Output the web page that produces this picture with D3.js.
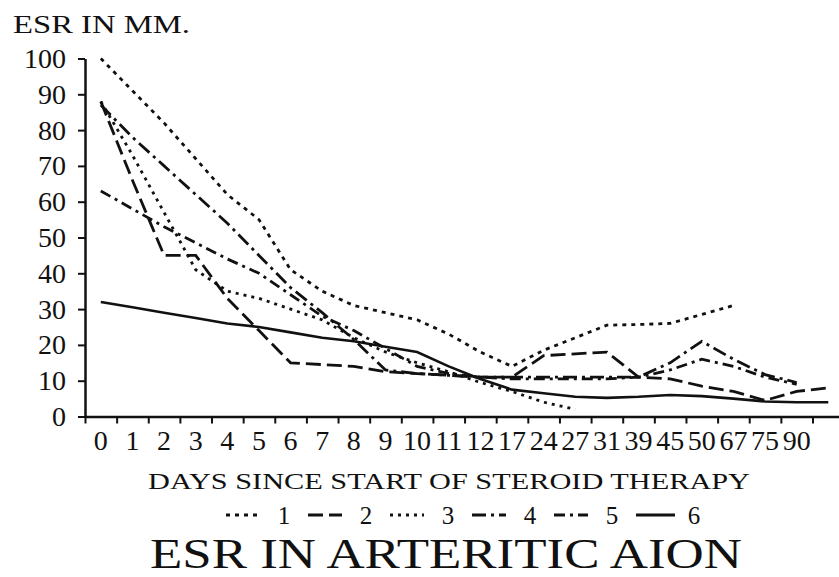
<!DOCTYPE html>
<html>
<head>
<meta charset="utf-8">
<script src="https://cdn.jsdelivr.net/npm/d3@7"></script>
<style>
  body { margin: 0; background: #fff; }
  svg text { font-family: "Liberation Serif", "DejaVu Serif", serif; fill: #111; }
</style>
</head>
<body>
<svg width="839" height="577"></svg>
<script>
// days since start of steroid therapy (last point has no printed label)
const days = ["0", "1", "2", "3", "4", "5", "6", "7", "8", "9", "10", "11", "12",
  "17", "24", "27", "31", "39", "45", "50", "67", "75", "90", ""];
const yTicks = [0, 10, 20, 30, 40, 50, 60, 70, 80, 90, 100];
const seriesNames = ["1", "2", "3", "4", "5", "6"];

// ESR in mm, one array per patient
const esr1 = [100, 91, 82, 72, 62, 55, 41, 35, 31, 29, 27, 23, 18, 14, 18.5, 22, 25.5, 25.7, 26, 28.5, 31];
const esr2 = [88, 66, 45, 45, 33, 24, 15, 14.5, 14, 12.5, 12, 11.5, 11, 11, 17, 17.5, 18, 11, 10.5, 8.5, 7, 4.5, 7, 8];
const esr3 = [88, 73, 57, 41, 35, 33, 30, 27, 22, 18, 15, 12.5, 9.5, 7, 4, 2];
const esr4 = [87, 78, 70, 62, 54, 45, 36, 29, 21.5, 13, 12, 11.5, 11, 11, 11, 11, 11, 11, 15, 21, 16, 11.7, 9.5];
const esr5 = [63, 58, 53, 48.5, 44, 40, 34, 28, 24, 19, 14, 12, 11, 10.5, 10.5, 10.5, 10.5, 11, 13, 16, 14, 11, 9];
const esr6 = [32, 30.5, 29, 27.5, 26, 25, 23.5, 22, 21, 19.5, 18, 14, 10.5, 7.5, 6.5, 5.5, 5.2, 5.5, 6, 5.7, 5, 4.2, 4, 4];

const allSeries = [esr1, esr2, esr3, esr4, esr5, esr6];
const dashes = ["4,5", "15,6", "3,5", "14,5,3,5", "11,5,3,5", null];

const svg = d3.select("svg");
const step = 31.63;
const x = d3.scaleBand().domain(days).range([85, 85 + days.length * step]);
const xEdge = d3.scaleLinear().domain([0, days.length]).range(x.range());
const y = d3.scaleLinear().domain([0, 100]).range([416.5, 58.5]);

// y axis
const yAxis = svg.append("g")
  .attr("transform", "translate(85,0)")
  .call(d3.axisLeft(y).tickValues(yTicks).tickSize(7).tickSizeOuter(0).tickPadding(12))
yAxis.attr("font-size", 28).attr("font-family", null)
yAxis.select(".domain").attr("stroke", "#111").attr("stroke-width", 2.5)
yAxis.selectAll(".tick line").attr("stroke", "#111").attr("stroke-width", 2)

// x axis: ticks at band edges
const xAxis = svg.append("g")
  .attr("transform", `translate(0,${y(0)})`)
  .call(d3.axisBottom(xEdge).tickValues(d3.range(0, days.length + 1)).tickSize(7).tickSizeOuter(0).tickFormat(""))
xAxis.select(".domain").attr("stroke", "#111").attr("stroke-width", 2.5)
xAxis.selectAll(".tick line").attr("stroke", "#111").attr("stroke-width", 2)

// x labels at band centres
const xLabels = svg.append("g")
  .attr("transform", `translate(0,${y(0)})`)
  .call(d3.axisBottom(x).tickSize(0).tickPadding(14))
xLabels.attr("font-size", 28).attr("font-family", null)
xLabels.select(".domain").remove()

const line = d3.line()
  .x((d, i) => x(days[i]) + x.bandwidth() / 2)
  .y(d => y(d))

svg.append("g").selectAll("path.series")
  .data(allSeries)
  .enter()
  .append("path")
  .attr("class", "series")
  .attr("d", line)
  .attr("fill", "none")
  .attr("stroke", "#111")
  .attr("stroke-width", (d, i) => i === 5 ? 2.6 : 2.8)
  .attr("stroke-dasharray", (d, i) => dashes[i])

// texts
svg.append("text").attr("x", 13).attr("y", 33)
  .attr("font-size", 26).attr("textLength", 177).attr("lengthAdjust", "spacingAndGlyphs")
  .text("ESR IN MM.")

svg.append("text").attr("x", 148).attr("y", 489)
  .attr("font-size", 24).attr("textLength", 602).attr("lengthAdjust", "spacingAndGlyphs")
  .text("DAYS SINCE START OF STEROID THERAPY")

// legend
const legend = svg.append("g").selectAll("g")
  .data(seriesNames)
  .enter()
  .append("g")
  .attr("transform", (d, i) => `translate(${226 + i * 82},515)`)

legend.append("line")
  .attr("x1", 0).attr("x2", (d, i) => i === 5 ? 39 : 34)
  .attr("stroke", "#111").attr("stroke-width", 2.8)
  .attr("stroke-dasharray", (d, i) => dashes[i])

legend.append("text")
  .attr("x", 58).attr("y", 9)
  .attr("text-anchor", "middle")
  .attr("font-size", 25)
  .text(d => d)

svg.append("text").attr("x", 150).attr("y", 568)
  .attr("font-size", 42).attr("textLength", 592).attr("lengthAdjust", "spacingAndGlyphs")
  .text("ESR IN ARTERITIC AION")
</script>
</body>
</html>
